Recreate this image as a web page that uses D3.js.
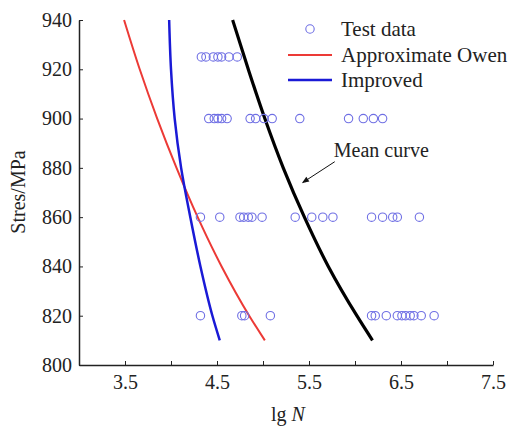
<!DOCTYPE html>
<html>
<head>
<meta charset="utf-8">
<script src="https://cdn.jsdelivr.net/npm/d3@7"></script>
<style>
  body { margin: 0; background: #fff; }
  text { font-family: "Liberation Serif", "Times New Roman", serif; }
</style>
</head>
<body>
<div id="my_dataviz"></div>
<script>
// test data rows: stress level and lg N values
var stress925 = [4.33, 4.38, 4.46, 4.51, 4.55, 4.63, 4.72];
var stress900 = [4.41, 4.47, 4.51, 4.55, 4.61, 4.86, 4.92, 5.01, 5.10, 5.40, 5.93, 6.09, 6.20, 6.30];
var stress860 = [4.32, 4.53, 4.75, 4.79, 4.84, 4.88, 4.99, 5.35, 5.53, 5.65, 5.76, 6.18, 6.30, 6.41, 6.46, 6.70];
var stress820 = [4.32, 4.77, 4.80, 5.08, 6.18, 6.22, 6.34, 6.46, 6.51, 6.55, 6.60, 6.64, 6.72, 6.86];

// curves: stress levels and lg N
var curveStress = [940, 920, 900, 880, 860, 840, 820, 810];
var owenN     = [3.49, 3.66, 3.85, 4.06, 4.29, 4.55, 4.85, 5.02];
var improvedN = [3.98, 4.00, 4.04, 4.11, 4.21, 4.32, 4.45, 4.53];
var meanN     = [4.67, 4.84, 5.02, 5.22, 5.45, 5.71, 6.02, 6.19];

var xTicks = [3.5, 4.5, 5.5, 6.5, 7.5];
var xMinor = [4.0, 5.0, 6.0, 7.0];
var yTicks = [800, 820, 840, 860, 880, 900, 920, 940];

var W = 512, H = 426;
var svg = d3.select("#my_dataviz")
    .append("svg")
    .attr("width", W)
    .attr("height", H);

var x = d3.scaleLinear().domain([3, 7.5]).range([79, 493]);
var y = d3.scaleLinear().domain([800, 940]).range([365, 20]);

// axes
svg.append("g")
    .attr("transform", "translate(0," + y(800) + ")")
    .call(d3.axisBottom(x).tickValues(xTicks.concat(xMinor)).tickSize(-4).tickSizeOuter(0)
        .tickFormat(function (d) { return xTicks.indexOf(d) >= 0 ? d.toFixed(1) : ""; }))
    .call(function (g) {
        g.select(".domain").attr("stroke", "#222").attr("stroke-width", 1.5);
        g.selectAll(".tick line").attr("stroke", "#222");
        g.selectAll(".tick text").attr("font-size", 20).attr("fill", "#222").attr("dy", "1.05em");
    });

svg.append("g")
    .attr("transform", "translate(" + x(3) + ",0)")
    .call(d3.axisLeft(y).tickValues(yTicks).tickSize(-4).tickSizeOuter(0).tickFormat(d3.format("d")))
    .call(function (g) {
        g.select(".domain").attr("stroke", "#222").attr("stroke-width", 1.5);
        g.selectAll(".tick line").attr("stroke", "#222");
        g.selectAll(".tick text").attr("font-size", 20).attr("fill", "#222").attr("x", -7);
    });

// axis labels
svg.append("text")
    .attr("transform", "translate(25," + 192 + ") rotate(-90)")
    .attr("text-anchor", "middle")
    .attr("font-size", 20)
    .attr("fill", "#222")
    .text("Stres/MPa");

var xl = svg.append("text")
    .attr("x", 288).attr("y", 421)
    .attr("text-anchor", "middle")
    .attr("font-size", 20)
    .attr("fill", "#222");
xl.append("tspan").text("lg ");
xl.append("tspan").attr("font-style", "italic").text("N");

// curves
var line = d3.line()
    .x(function (d) { return x(d[0]); })
    .y(function (d) { return y(d[1]); })
    .curve(d3.curveMonotoneY);

function pairs(ns) { return ns.map(function (n, i) { return [n, curveStress[i]]; }); }

svg.append("path").datum(pairs(owenN)).attr("d", line)
    .attr("fill", "none").attr("stroke", "#ec3a36").attr("stroke-width", 2);
svg.append("path").datum(pairs(improvedN)).attr("d", line)
    .attr("fill", "none").attr("stroke", "#1a1ad6").attr("stroke-width", 2.5);
svg.append("path").datum(pairs(meanN)).attr("d", line)
    .attr("fill", "none").attr("stroke", "#000").attr("stroke-width", 3.2);

// test data points
var rows = [[925, stress925], [900, stress900], [860, stress860], [820, stress820]];
var pts = [];
rows.forEach(function (r) { r[1].forEach(function (n) { pts.push([n, r[0]]); }); });

svg.append("g").selectAll("circle")
    .data(pts).enter().append("circle")
    .attr("cx", function (d) { return x(d[0]); })
    .attr("cy", function (d) { return y(d[1]); })
    .attr("r", 4.2)
    .attr("fill", "none")
    .attr("stroke", "#6f6fe4")
    .attr("stroke-width", 1.1);

// legend
var lg = svg.append("g");
lg.append("circle").attr("cx", 310).attr("cy", 29).attr("r", 4.2)
    .attr("fill", "none").attr("stroke", "#6f6fe4").attr("stroke-width", 1.1);
lg.append("line").attr("x1", 288).attr("x2", 332).attr("y1", 55).attr("y2", 55)
    .attr("stroke", "#ec3a36").attr("stroke-width", 2);
lg.append("line").attr("x1", 288).attr("x2", 332).attr("y1", 80).attr("y2", 80)
    .attr("stroke", "#1a1ad6").attr("stroke-width", 2.5);
[["Test data", 29], ["Approximate Owen", 55], ["Improved", 80]].forEach(function (t) {
    lg.append("text").attr("x", 341).attr("y", t[1]).attr("dy", "0.33em")
        .attr("font-size", 21).attr("fill", "#222").text(t[0]);
});

// mean curve annotation
svg.append("defs").append("marker")
    .attr("id", "arrow").attr("viewBox", "0 0 10 10")
    .attr("refX", 9).attr("refY", 5)
    .attr("markerWidth", 9).attr("markerHeight", 7)
    .attr("orient", "auto")
    .append("path").attr("d", "M0,1 L10,5 L0,9 Z").attr("fill", "#111");

svg.append("text")
    .attr("x", x(5.77)).attr("y", y(887)).attr("dy", "0.33em")
    .attr("font-size", 20).attr("fill", "#222")
    .text("Mean curve");

svg.append("line")
    .attr("x1", x(5.78)).attr("y1", y(882.5))
    .attr("x2", x(5.43)).attr("y2", y(874))
    .attr("stroke", "#111").attr("stroke-width", 1)
    .attr("marker-end", "url(#arrow)");
</script>
</body>
</html>
